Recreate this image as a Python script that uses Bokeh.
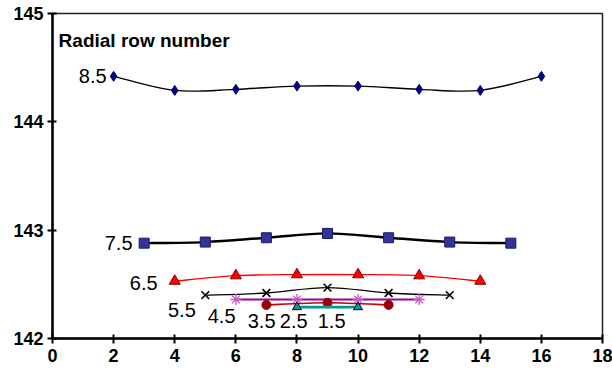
import numpy as np
from bokeh.plotting import figure
from bokeh.models import Range1d, FixedTicker, ColumnDataSource, Label
from bokeh.core.properties import value
from bokeh.embed import file_html
from bokeh.resources import INLINE

# ---- data ----
row_names = ["8.5", "7.5", "6.5", "5.5", "4.5", "3.5", "2.5", "1.5"]
x_85 = [2, 4, 6, 8, 10, 12, 14, 16]
y_85 = [144.42, 144.29, 144.30, 144.33, 144.33, 144.30, 144.29, 144.42]
x_75 = [3, 5, 7, 9, 11, 13, 15]
y_75 = [142.88, 142.89, 142.93, 142.97, 142.93, 142.89, 142.88]
x_65 = [4, 6, 8, 10, 12, 14]
y_65 = [142.53, 142.58, 142.59, 142.59, 142.58, 142.53]
x_55 = [5, 7, 9, 11, 13]
y_55 = [142.40, 142.42, 142.47, 142.42, 142.40]
x_45 = [6, 8, 10, 12]
y_45 = [142.36, 142.36, 142.36, 142.36]
x_35 = [7, 9, 11]
y_35 = [142.31, 142.33, 142.31]
x_25 = [8, 10]
y_25 = [142.29, 142.29]
x_15 = [9]
y_15 = [142.32]

x_ticks = list(range(0, 19, 2))
y_ticks = [142, 143, 144, 145]

# label placement (layout, not data)
lab_x = [0.86, 1.71, 2.53, 3.78, 5.08, 6.39, 7.44, 8.68]
lab_y = [144.42, 142.88, 142.51, 142.26, 142.21, 142.16, 142.16, 142.16]

FONT = "Liberation Sans"

p = figure(frame_width=550, frame_height=325, output_backend="svg", toolbar_location=None,
           x_range=Range1d(0, 18), y_range=Range1d(142, 145),
           min_border_left=52, min_border_right=10, min_border_top=13, min_border_bottom=34)
p.xgrid.visible = False
p.ygrid.visible = False
p.background_fill_color = "white"
p.outline_line_color = "#222222"
p.outline_line_width = 1.5

for ax, ticks, nminor in ((p.xaxis[0], x_ticks, 4), (p.yaxis[0], y_ticks, 2)):
    ax.ticker = FixedTicker(ticks=ticks, num_minor_ticks=nminor)
    ax.axis_line_width = 2.5
    ax.axis_line_color = "black"
    ax.major_tick_line_width = 2
    ax.major_tick_line_color = "black"
    ax.minor_tick_line_width = 1.5
    ax.minor_tick_line_color = "black"
    ax.major_tick_in = 4
    ax.major_tick_out = 5
    ax.minor_tick_in = 4
    ax.minor_tick_out = 0
    ax.major_label_text_font = FONT
    ax.major_label_text_font_style = "bold"
    ax.major_label_text_font_size = "18px"
    ax.major_label_text_color = "black"
p.xaxis[0].major_label_standoff = 5
p.yaxis[0].major_label_standoff = 4


def smooth(xs, ys, color, width):
    xs = np.asarray(xs, float)
    ys = np.asarray(ys, float)
    n = len(xs)
    if n < 2:
        return
    xp = np.concatenate([[xs[0]], xs, [xs[-1]]])
    yp = np.concatenate([[ys[0]], ys, [ys[-1]]])
    x0, y0, x1, y1, cx0, cy0, cx1, cy1 = ([] for _ in range(8))
    for i in range(n - 1):
        j = i + 1
        x0.append(xp[j]); y0.append(yp[j])
        x1.append(xp[j + 1]); y1.append(yp[j + 1])
        cx0.append(xp[j] + (xp[j + 1] - xp[j - 1]) / 6)
        cy0.append(yp[j] + (yp[j + 1] - yp[j - 1]) / 6)
        cx1.append(xp[j + 1] - (xp[j + 2] - xp[j]) / 6)
        cy1.append(yp[j + 1] - (yp[j + 2] - yp[j]) / 6)
    p.bezier(x0=x0, y0=y0, x1=x1, y1=y1, cx0=cx0, cy0=cy0, cx1=cx1, cy1=cy1,
             line_color=color, line_width=width)


# single point for row 1.5 (hidden under the 3.5 marker)
p.scatter(x_15, y_15, marker="circle", size=5, color="#990000")

smooth(x_85, y_85, "black", 1.4)
p.scatter(x_85, y_85, marker="diamond", size=10, fill_color="#000080", line_color="#000080")

smooth(x_75, y_75, "black", 2.4)
p.scatter(x_75, y_75, marker="square", size=10, fill_color="#333399", line_color="#1a1a66")

smooth(x_65, y_65, "#ff0000", 1.4)
p.scatter(x_65, y_65, marker="triangle", size=11, fill_color="#ff0000", line_color="#800000")

smooth(x_55, y_55, "black", 1.3)
p.scatter(x_55, y_55, marker="x", size=11, line_color="black", line_width=1.6)

smooth(x_45, y_45, "#990099", 1.8)
p.scatter(x_45, y_45, marker="asterisk", size=11, line_color="#cc55cc", line_width=1.3)

smooth(x_35, y_35, "#cc0000", 1.6)
p.scatter(x_35, y_35, marker="circle", size=9, fill_color="#990000", line_color="#990000")

smooth(x_25, y_25, "#009999", 2.8)
p.scatter(x_25, y_25, marker="triangle", size=9, fill_color="#009999", line_color="black")

src = ColumnDataSource(dict(x=lab_x, y=lab_y, t=row_names))
p.text(x="x", y="y", text="t", source=src, text_font=value(FONT), text_font_size="20px",
       text_align="left", text_baseline="middle", text_color="black")

p.add_layout(Label(x=0.2, y=144.75, text="Radial row number", text_font=FONT,
                   text_font_size="19px", text_font_style="bold", text_baseline="middle",
                   text_color="black"))

open("out.html", "w").write(file_html(p, INLINE))
